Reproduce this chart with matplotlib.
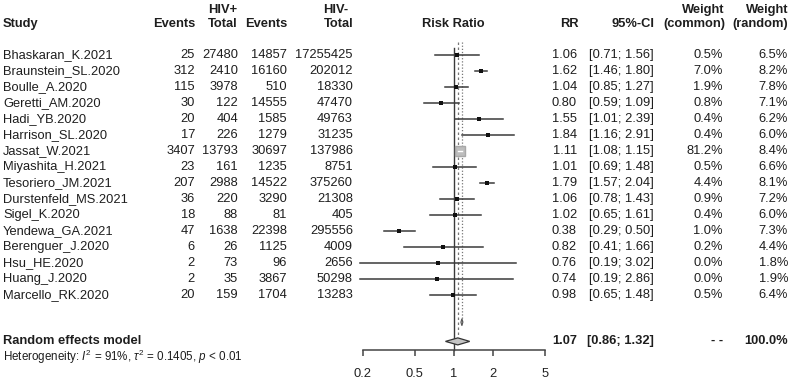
import matplotlib.pyplot as plt
from matplotlib import transforms

plt.rcParams['font.family'] = ['Liberation Sans', 'DejaVu Sans']
plt.rcParams['mathtext.fontset'] = 'custom'
plt.rcParams['mathtext.rm'] = 'Liberation Sans'
plt.rcParams['mathtext.it'] = 'Liberation Sans:italic'

studies = ["Bhaskaran_K.2021", "Braunstein_SL.2020", "Boulle_A.2020", "Geretti_AM.2020",
           "Hadi_YB.2020", "Harrison_SL.2020", "Jassat_W.2021", "Miyashita_H.2021",
           "Tesoriero_JM.2021", "Durstenfeld_MS.2021", "Sigel_K.2020", "Yendewa_GA.2021",
           "Berenguer_J.2020", "Hsu_HE.2020", "Huang_J.2020", "Marcello_RK.2020"]
ev_pos = [25, 312, 115, 30, 20, 17, 3407, 23, 207, 36, 18, 47, 6, 2, 2, 20]
n_pos = [27480, 2410, 3978, 122, 404, 226, 13793, 161, 2988, 220, 88, 1638, 26, 73, 35, 159]
ev_neg = [14857, 16160, 510, 14555, 1585, 1279, 30697, 1235, 14522, 3290, 81, 22398, 1125, 96, 3867, 1704]
n_neg = [17255425, 202012, 18330, 47470, 49763, 31235, 137986, 8751, 375260, 21308, 405,
         295556, 4009, 2656, 50298, 13283]
rr = [1.06, 1.62, 1.04, 0.80, 1.55, 1.84, 1.11, 1.01, 1.79, 1.06, 1.02, 0.38, 0.82, 0.76, 0.74, 0.98]
ci_lo = [0.71, 1.46, 0.85, 0.59, 1.01, 1.16, 1.08, 0.69, 1.57, 0.78, 0.65, 0.29, 0.41, 0.19, 0.19, 0.65]
ci_hi = [1.56, 1.80, 1.27, 1.09, 2.39, 2.91, 1.15, 1.48, 2.04, 1.43, 1.61, 0.50, 1.66, 3.02, 2.86, 1.48]
w_common = [0.5, 7.0, 1.9, 0.8, 0.4, 0.4, 81.2, 0.5, 4.4, 0.9, 0.4, 1.0, 0.2, 0.0, 0.0, 0.5]
w_random = [6.5, 8.2, 7.8, 7.1, 6.2, 6.0, 8.4, 6.6, 8.1, 7.2, 6.0, 7.3, 4.4, 1.8, 1.9, 6.4]

# pooled estimates
random_est, random_lo, random_hi = 1.07, 0.86, 1.32
common_est, common_lo, common_hi = 1.15, 1.13, 1.17
x_ticks = [0.2, 0.5, 1, 2, 5]
x_ticklabels = ["0.2", "0.5", "1", "2", "5"]

W, H = 790, 382
fig = plt.figure(figsize=(W / 100, H / 100), dpi=100)

# forest axes: 0.2 at x=363px, 5 at x=545px; rows at 55 + 16*i px
ax = fig.add_axes([363 / W, 1 - 350 / H, (545 - 363) / W, (350 - 40) / H])
ax.set_xscale('log')
ax.set_xlim(0.2, 5)
ax.set_ylim((350 - 55) / 16, (40 - 55) / 16)
for s in ['left', 'right', 'top']:
    ax.spines[s].set_visible(False)
ax.spines['bottom'].set_color('#444444')
ax.spines['bottom'].set_linewidth(1.1)
ax.set_yticks([])
ax.set_xticks(x_ticks)
ax.set_xticklabels(x_ticklabels)
ax.minorticks_off()
ax.tick_params(axis='x', direction='out', length=4, width=1.1, color='#444444',
               pad=9, labelsize=9.3, labelcolor='#222222')

row_common = 16.7
row_random = 17.9
line_col = '#3a3a3a'

# reference lines
ax.plot([1, 1], [-0.45, (350 - 55) / 16], color=line_col, lw=1.0, clip_on=False)
ax.plot([common_est, common_est], [-0.8, row_common], color='#777777', lw=0.9,
        ls=(0, (1, 1.5)), clip_on=False)
ax.plot([random_est, random_est], [-0.8, row_random - 0.3], color='#777777', lw=0.9,
        ls=(0, (2, 2)), clip_on=False)

# studies
for i in range(len(studies)):
    side = max(3.2, 10.5 * (w_common[i] / 81.2) ** 0.5)
    if w_common[i] > 50:
        ax.plot(rr[i], i, marker='s', markersize=side * 0.72, color='#bdbdbd',
                markeredgecolor='#a8a8a8', zorder=3)
        ax.plot([ci_lo[i], ci_hi[i]], [i, i], color='white', lw=1.0, zorder=4)
    else:
        ax.plot([ci_lo[i], ci_hi[i]], [i, i], color=line_col, lw=1.1, clip_on=False, zorder=2)
        ax.plot(rr[i], i, marker='s', markersize=side * 0.72, color='#111111',
                markeredgewidth=0, zorder=3)

# pooled diamonds
ax.fill([random_lo, random_est, random_hi, random_est],
        [row_random, row_random - 0.22, row_random, row_random + 0.22],
        facecolor='#c4c4c4', edgecolor='#333333', lw=0.9, zorder=3)
ax.fill([common_lo, common_est, common_hi, common_est],
        [row_common, row_common - 0.22, row_common, row_common + 0.22],
        facecolor='#c4c4c4', edgecolor='#555555', lw=0.8, zorder=3)

# table text: x in figure pixels, y in forest rows
tr = transforms.blended_transform_factory(fig.transFigure, ax.transData)
fs = 9.3
tc = '#1e1e1e'


def put(x, y, s, ha='right', bold=False, size=fs):
    fig.text(x / W, y, s, transform=tr, ha=ha, va='center', fontsize=size,
             fontweight='bold' if bold else 'normal', color=tc)


hdr1 = (10 - 55) / 16
hdr2 = (24 - 55) / 16
put(237, hdr1, "HIV+", bold=True)
put(348, hdr1, "HIV-", bold=True)
put(724, hdr1, "Weight", bold=True)
put(788, hdr1, "Weight", bold=True)
put(3, hdr2, "Study", ha='left', bold=True)
put(195, hdr2, "Events", bold=True)
put(238, hdr2, "Total", bold=True)
put(287, hdr2, "Events", bold=True)
put(353, hdr2, "Total", bold=True)
put(453, hdr2, "Risk Ratio", ha='center', bold=True)
put(579, hdr2, "RR", bold=True)
put(655, hdr2, "95%-CI", bold=True)
put(725, hdr2, "(common)", bold=True)
put(788, hdr2, "(random)", bold=True)

for i, name in enumerate(studies):
    put(3, i, name, ha='left')
    put(195, i, str(ev_pos[i]))
    put(238, i, str(n_pos[i]))
    put(287, i, str(ev_neg[i]))
    put(353, i, str(n_neg[i]))
    put(577, i, f"{rr[i]:.2f}")
    put(654, i, f"[{ci_lo[i]:.2f}; {ci_hi[i]:.2f}]")
    put(723, i, f"{w_common[i]:.1f}%")
    put(788, i, f"{w_random[i]:.1f}%")

put(3, row_random, "Random effects model", ha='left', bold=True)
put(577, row_random, f"{random_est:.2f}", bold=True)
put(654, row_random, f"[{random_lo:.2f}; {random_hi:.2f}]", bold=True)
put(723, row_random, "- -", bold=True)
put(788, row_random, "100.0%", bold=True)
put(3, (357 - 55) / 16, r"Heterogeneity: $I^2$ = 91%, $\tau^2$ = 0.1405, $p$ < 0.01",
    ha='left', size=8.4)

fig.savefig("out.png", dpi=100)
